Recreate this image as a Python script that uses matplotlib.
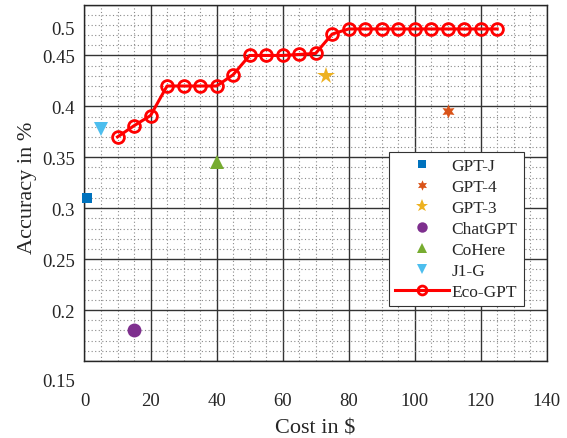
import numpy as np
import matplotlib
matplotlib.use('Agg')
import matplotlib.pyplot as plt
from matplotlib.ticker import MultipleLocator
from matplotlib.transforms import ScaledTranslation

plt.rcParams['font.family'] = ['Liberation Serif', 'DejaVu Serif']

# Eco-GPT curve
eco_cost = [10, 15, 20, 25, 30, 35, 40, 45, 50, 55, 60, 65, 70, 75,
            80, 85, 90, 95, 100, 105, 110, 115, 120, 125]
eco_acc = [0.370, 0.381, 0.391, 0.420, 0.420, 0.420, 0.420, 0.431, 0.450,
           0.450, 0.450, 0.451, 0.452, 0.471, 0.476, 0.476, 0.476, 0.476,
           0.476, 0.476, 0.476, 0.476, 0.476, 0.476]

# single models
model_names = ['GPT-J', 'GPT-4', 'GPT-3', 'ChatGPT', 'CoHere', 'J1-G']
model_cost = [0.7, 110, 73, 15, 40, 5]
model_acc = [0.310, 0.395, 0.430, 0.180, 0.345, 0.378]
model_colors = ['#0072BD', '#D95319', '#EDB120', '#7E2F8E', '#77AC30', '#4DBEEE']
model_markers = ['s', (6, 1, 0), '*', 'o', '^', 'v']
model_sizes = [7, 10, 13, 10, 10, 10]

yticks = [0.15, 0.2, 0.25, 0.3, 0.35, 0.4, 0.45, 0.5]
ytick_labels = ['0.15', '0.2', '0.25', '0.3', '0.35', '0.4', '0.45', '0.5']
xticks = [0, 20, 40, 60, 80, 100, 120, 140]

fig = plt.figure(figsize=(5.67, 4.39), dpi=100)
ax = fig.add_axes([0.149, 0.1754, 0.8153, 0.812])

for name, cx, cy, col, mk, ms in zip(model_names, model_cost, model_acc,
                                     model_colors, model_markers, model_sizes):
    ax.plot([cx], [cy], linestyle='none', marker=mk, markersize=ms,
            color=col, markeredgewidth=0, label=name, clip_on=False, zorder=3)

ax.plot(eco_cost, eco_acc, color='#FF0000', linewidth=2.2, marker='o',
        markersize=8.5, markerfacecolor='none', markeredgewidth=2.0,
        label='Eco-GPT', zorder=4)

ax.set_xlim(0, 140)
ax.set_ylim(0.15, 0.5)
ax.set_xticks(xticks)
ax.set_yticks(yticks)
ax.set_yticklabels(ytick_labels)
ax.xaxis.set_minor_locator(MultipleLocator(5))
ax.yaxis.set_minor_locator(MultipleLocator(0.01))

ax.grid(which='major', color='#333333', linewidth=1.0, linestyle='-')
ax.grid(which='minor', color='#8a8a8a', linewidth=0.8, linestyle=(0, (1, 2.2)))
ax.set_axisbelow(True)

for sp in ax.spines.values():
    sp.set_color('#262626')
    sp.set_linewidth(1.0)

ax.tick_params(axis='both', which='both', direction='in', length=0,
               labelsize=13.5, colors='#262626')
ax.tick_params(axis='x', pad=22)
ax.tick_params(axis='y', pad=7)

# end labels sit lower than their gridlines in the original
ticks = ax.yaxis.get_major_ticks()
offsets = {0: -19, 7: -23}
for i, dy in offsets.items():
    lab = ticks[i].label1
    lab.set_transform(lab.get_transform() +
                      ScaledTranslation(0, dy / 100, fig.dpi_scale_trans))

ax.set_xlabel('Cost in $', fontsize=16, color='#262626', labelpad=7)
ax.set_ylabel('Accuracy in %', fontsize=16, color='#262626')
ax.yaxis.set_label_coords(-0.103, 0.49)

leg = ax.legend(loc='lower left', bbox_to_anchor=(0.659, 0.154),
                fontsize=12.5, frameon=True, fancybox=False, framealpha=1,
                edgecolor='#333333', handlelength=3.1, handletextpad=0.15,
                labelspacing=0.28, borderpad=0.35, borderaxespad=0,
                markerscale=0.75, numpoints=1)
leg.get_frame().set_linewidth(0.8)
for t in leg.get_texts():
    t.set_color('#262626')

fig.savefig('out.png', dpi=100)
